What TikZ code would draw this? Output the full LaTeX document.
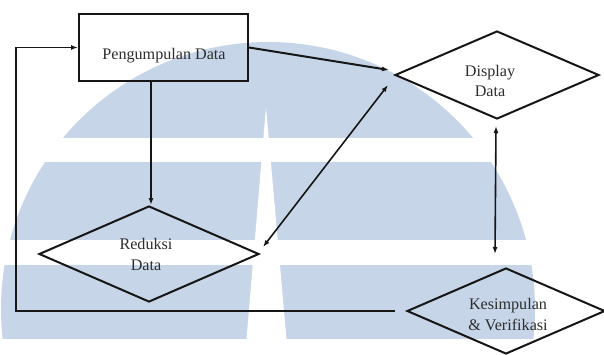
\documentclass[tikz,border=0pt]{standalone}
\usepackage{fontspec}
\setmainfont{Liberation Serif}
\usetikzlibrary{shapes.geometric,arrows.meta,calc}
\definecolor{wm}{RGB}{199,213,232}
\definecolor{ink}{RGB}{22,22,22}
\begin{document}
\begin{tikzpicture}[x=1bp,y=-1bp,
  shp/.style={draw=ink, line width=2bp},
  box/.style={shp, rectangle, inner sep=0, minimum width=169bp, minimum height=67bp},
  dia/.style={shp, diamond, inner sep=0},
  lbl/.style={font=\fontsize{16.2}{21}\selectfont, text=ink!90, align=center, inner sep=0},
  conn/.style={draw=ink, line width=1.6bp},
  arr/.style={conn, -{Latex[length=7bp,width=5bp]}},
  darr/.style={conn, {Latex[length=7bp,width=5bp]}-{Latex[length=7bp,width=5bp]}}]
\useasboundingbox (0,0) rectangle (604,354);
% background and watermark
\fill[white] (0,0) rectangle (604,354);
\begin{scope}
  \clip (0,0) rectangle (604,338);
  \fill[wm] (268,309) circle[radius=267bp];
\end{scope}
\fill[white] (0,138) rectangle (604,162);
\fill[white] (0,240) rectangle (604,265);
\fill[white] (266,107) -- (246,345) -- (287,345) -- cycle;
% nodes
\node[box] (peng) at (163.5,47.5) {};
\node[lbl] (tpeng) at (164,56) {Pengumpulan Data};
\node[dia, minimum width=204bp, minimum height=88bp] (disp) at (497,75) {};
\node[lbl] (tdisp) at (490,81) {Display\\Data};
\node[dia, minimum width=220bp, minimum height=96bp] (red) at (149,254) {};
\node[lbl] (tred) at (146,254.5) {Reduksi\\Data};
\node[dia, minimum width=198bp, minimum height=86bp] (kes) at (506,311) {};
\node[lbl] (tkes) at (508,314.5) {Kesimpulan\\\& Verifikasi};
% connectors
\draw[arr] ([xshift=-11bp]kes.west) -| ([xshift=-62bp]peng.west) -- (peng.west);
\draw[arr, line width=2bp] (peng.east) -- ([xshift=-5bp,yshift=5bp]disp.west);
\draw[arr] ([xshift=2bp]red.north |- peng.south) -- ([xshift=2bp]red.north);
\draw[darr] ([xshift=3bp,yshift=7bp]red.east) -- ([xshift=-6bp,yshift=-10bp]disp.west);
\draw[darr] ([xshift=-1bp,yshift=-6bp]disp.south) -- ($(disp.south |- kes.north)+(-2,-13)$);
\end{tikzpicture}
\end{document}
